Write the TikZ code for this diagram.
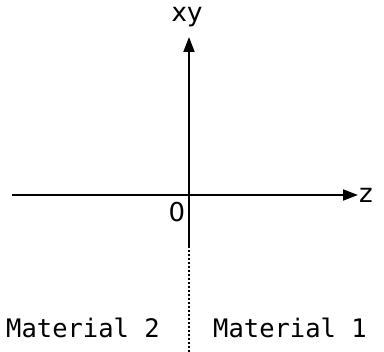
\documentclass[tikz,border=0pt]{standalone}
\usepackage{fontspec}
\setmainfont{DejaVu Sans}
\setmonofont{DejaVu Sans Mono}
\usetikzlibrary{arrows.meta,positioning}

\begin{document}
\begin{tikzpicture}[
  x=1pt, y=-1pt,
  axis/.style={-{Triangle[length=15pt, width=11pt]}, line width=1.8pt},
  lbl/.style={font=\fontsize{26}{30}\selectfont, inner sep=1pt},
  mat/.style={font=\ttfamily\fontsize{25.5}{30}\selectfont, inner sep=1pt}
]
  \useasboundingbox (0,0) rectangle (384,352);
  % axes
  \coordinate (origin) at (189,195);
  \coordinate (zstart) at (12,195);
  \coordinate (ztip) at (358,195);
  \coordinate (xytip) at (189,37);
  \coordinate (solidend) at (189,246);
  \coordinate (dotend) at (189,352);
  \draw[axis] (zstart) -- (ztip);
  \draw[axis] (origin) -- (xytip);
  \draw[line width=1.8pt] (origin) -- (solidend);
  \draw[line width=2pt, dash pattern=on 2pt off 2pt] (solidend) -- (dotend);
  % labels
  \node[lbl, anchor=west] (zlabel) at (358,195) {z};
  \node[lbl] (xylabel) at (187,17) {xy};
  \node[lbl] (zero) at (177,212) {0};
  \node[mat] (mat2) at (83,328) {Material 2};
  \node[mat] (mat1) at (290,328) {Material 1};
\end{tikzpicture}
\end{document}
